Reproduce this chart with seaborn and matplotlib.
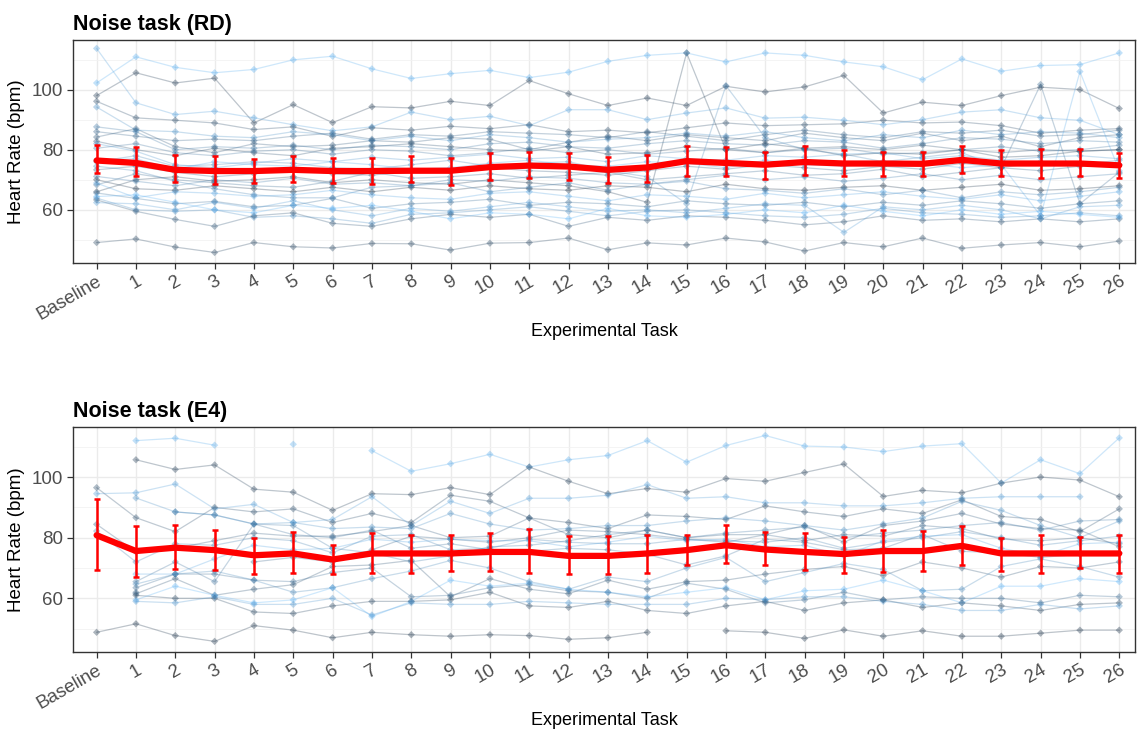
import numpy as np
import pandas as pd
import matplotlib
matplotlib.use("Agg")
import matplotlib.pyplot as plt
from matplotlib.colors import LinearSegmentedColormap
import seaborn as sns

nan = np.nan
tasks = ["Baseline"] + [str(i) for i in range(1, 27)]

# ---------------- RD panel: individual subjects ----------------
rd_01 = [102.2, 110.9, 107.4, 105.6, 106.7, 109.9, 111.1, 106.9, 103.7, 105.3, 106.4, 104.0, 105.8, 109.4, 111.4, 112.2, 109.2, 112.2, 111.4, 109.2, 107.6, 103.3, 110.2, 106.1, 108.0, 108.3, 112.2]
rd_02 = [98.0, 105.6, 102.2, 103.8, 88.9, 95.0, 89.0, 94.3, 93.9, 96.1, 94.7, 103.0, 98.6, 94.7, 97.2, 94.7, 101.1, 99.2, 100.9, 104.7, 92.2, 95.8, 94.7, 98.0, 100.8, 100.0, 93.7]
rd_03 = [113.7, 95.6, 91.7, 92.8, 90.6, 88.3, 86.3, 87.6, 92.5, 90.0, 91.1, 88.0, 93.3, 93.3, 90.0, 92.2, 93.9, 90.5, 90.8, 89.8, 88.3, 90.0, 92.5, 93.3, 90.6, 89.8, 85.0]
rd_04 = [96.1, 90.6, 89.8, 88.9, 86.7, 87.6, 84.4, 87.3, 86.5, 87.8, 87.0, 88.3, 86.0, 86.5, 85.6, 87.3, 88.9, 88.0, 88.3, 88.6, 89.8, 88.9, 89.2, 88.0, 85.5, 86.5, 87.0]
rd_05 = [94.2, 86.5, 86.0, 84.5, 84.0, 86.0, 85.0, 83.0, 84.5, 83.0, 85.0, 84.0, 82.5, 83.5, 84.0, 85.5, 84.5, 86.0, 84.0, 83.0, 85.0, 84.0, 86.5, 85.0, 86.0, 85.5, 84.0]
rd_06 = [87.6, 86.0, 80.0, 81.0, 80.5, 81.5, 80.0, 81.5, 81.0, 80.0, 82.0, 82.5, 81.0, 80.5, 82.0, 83.0, 82.0, 81.5, 83.0, 82.5, 80.5, 82.0, 84.0, 83.5, 82.0, 83.0, 82.5]
rd_07 = [84.2, 87.0, 81.0, 79.0, 82.0, 81.0, 81.5, 83.0, 82.5, 84.0, 83.5, 80.0, 82.5, 84.5, 83.0, 85.0, 84.0, 83.0, 85.5, 84.0, 83.0, 85.5, 83.0, 84.5, 81.0, 84.0, 85.0]
rd_08 = [66.0, 70.0, 71.0, 69.5, 70.0, 71.0, 69.0, 70.0, 69.0, 68.5, 70.0, 69.0, 68.0, 66.0, 62.5, 112.2, 80.0, 82.0, 80.5, 78.0, 79.0, 78.5, 80.0, 77.5, 78.0, 79.5, 80.0]
rd_09 = [76.0, 78.0, 74.5, 75.0, 76.0, 75.5, 74.0, 73.5, 75.0, 76.5, 74.5, 75.5, 76.0, 73.0, 71.0, 62.0, 101.3, 84.0, 80.0, 78.5, 76.0, 77.5, 79.0, 74.0, 76.0, 75.0, 76.5]
rd_10 = [68.3, 72.0, 70.0, 69.0, 68.0, 67.5, 69.5, 72.5, 70.5, 71.0, 72.0, 70.5, 71.5, 72.5, 70.0, 71.0, 72.0, 73.0, 71.5, 72.0, 73.5, 71.0, 72.5, 74.0, 101.7, 62.0, 72.5]
rd_11 = [76.5, 77.0, 73.5, 76.0, 75.0, 74.5, 76.0, 75.0, 73.5, 74.0, 75.5, 76.5, 75.0, 74.5, 76.0, 75.5, 74.0, 76.5, 75.0, 74.5, 76.0, 75.5, 74.0, 75.0, 58.0, 106.0, 73.0]
rd_12 = [82.8, 80.0, 78.0, 80.5, 79.0, 78.0, 80.5, 81.0, 82.0, 81.0, 80.0, 79.5, 81.0, 78.5, 79.0, 81.0, 80.0, 79.0, 80.5, 81.0, 80.0, 81.5, 80.0, 79.0, 80.0, 79.5, 80.0]
rd_13 = [82.0, 79.5, 75.0, 74.0, 75.5, 77.0, 76.0, 77.5, 76.5, 77.5, 78.5, 77.0, 77.5, 76.0, 78.0, 77.0, 76.5, 78.0, 77.5, 78.5, 79.0, 77.0, 78.0, 76.5, 77.5, 78.0, 77.0]
rd_14 = [73.3, 74.5, 72.5, 71.0, 72.0, 73.5, 72.0, 71.5, 73.0, 72.5, 74.0, 73.0, 72.5, 71.5, 73.0, 74.5, 73.5, 75.0, 74.0, 73.0, 74.5, 73.5, 75.5, 74.0, 73.0, 74.5, 75.0]
rd_15 = [71.1, 69.5, 68.0, 70.0, 69.0, 70.5, 68.5, 69.0, 68.0, 70.0, 69.5, 71.0, 70.5, 69.0, 68.5, 70.0, 71.5, 70.0, 71.0, 69.5, 70.5, 72.0, 70.0, 71.5, 70.0, 71.0, 72.0]
rd_16 = [70.0, 67.0, 66.5, 68.0, 67.0, 66.0, 67.5, 66.0, 67.5, 66.5, 68.0, 67.0, 66.5, 68.0, 67.5, 66.0, 68.5, 67.0, 66.5, 67.5, 68.0, 66.5, 67.5, 68.5, 66.5, 67.0, 68.0]
rd_17 = [68.9, 64.0, 66.0, 65.5, 64.5, 65.0, 66.5, 65.0, 64.0, 63.5, 65.5, 66.0, 64.5, 63.0, 65.0, 64.5, 63.5, 65.5, 64.0, 65.0, 66.0, 64.5, 63.5, 65.0, 63.0, 64.5, 66.0]
rd_18 = [65.6, 63.8, 62.0, 62.8, 61.0, 61.5, 63.8, 60.5, 62.0, 62.5, 63.5, 61.5, 62.5, 62.0, 61.0, 63.0, 62.0, 61.5, 62.5, 61.0, 62.5, 61.5, 63.0, 62.0, 60.5, 62.0, 63.0]
rd_19 = [63.9, 60.0, 59.5, 60.0, 57.5, 58.0, 57.0, 55.5, 58.5, 59.0, 60.0, 61.0, 59.5, 58.0, 59.5, 60.0, 59.0, 58.0, 57.5, 58.5, 60.5, 59.0, 58.5, 57.5, 58.0, 59.0, 58.0]
rd_20 = [63.3, 59.5, 56.8, 54.5, 58.0, 59.0, 55.5, 54.5, 57.0, 58.5, 57.5, 58.5, 54.5, 57.5, 56.5, 58.0, 57.5, 56.5, 55.0, 56.0, 58.0, 56.5, 57.0, 56.0, 57.0, 56.0, 57.0]
rd_21 = [62.4, 62.0, 60.0, 62.5, 60.5, 63.0, 60.0, 58.0, 60.5, 59.5, 61.0, 62.5, 61.0, 59.5, 60.0, 59.0, 60.5, 62.0, 61.5, 52.5, 61.0, 60.0, 61.5, 60.0, 57.0, 61.0, 61.5]
rd_22 = [49.1, 50.3, 47.6, 45.8, 49.1, 47.7, 47.3, 48.8, 48.7, 46.6, 48.9, 49.1, 50.6, 46.7, 49.0, 48.3, 50.6, 49.3, 46.3, 49.1, 47.7, 50.6, 47.2, 48.3, 49.1, 47.7, 49.6]
rd_23 = [86.0, 84.5, 83.0, 83.5, 83.0, 84.5, 85.5, 83.5, 85.0, 84.5, 86.0, 85.5, 85.0, 84.0, 86.0, 84.5, 83.0, 85.0, 86.5, 85.0, 84.0, 86.0, 85.5, 86.5, 84.5, 85.0, 86.5]
rd_24 = [74.5, 73.0, 69.5, 67.0, 65.0, 64.0, 64.0, 67.5, 68.0, 69.0, 66.0, 67.5, 69.0, 66.5, 68.5, 69.5, 67.0, 66.5, 65.5, 67.0, 65.0, 66.5, 64.0, 66.0, 65.0, 66.0, 67.5]
rd_25 = [80.5, 82.0, 79.0, 78.0, 79.5, 80.0, 78.5, 80.0, 79.5, 78.0, 79.0, 80.5, 79.0, 80.0, 78.5, 79.5, 80.5, 79.0, 80.0, 80.5, 78.5, 79.0, 80.0, 81.0, 79.5, 80.0, 81.5]
rd_26 = [64.4, 65.0, 62.5, 60.0, 59.0, 61.5, 60.5, 61.5, 59.5, 57.0, 59.0, 58.5, 57.0, 60.5, 58.0, 57.5, 58.5, 60.0, 59.0, 61.5, 59.5, 58.0, 60.0, 58.5, 59.5, 58.5, 57.5]
# subject IDs (mapped to the continuous blue colour scale)
rd_ids = [25, 2, 22, 5, 19, 14, 8, 3, 17, 11, 24, 6, 20, 9, 15, 1, 23, 12, 18, 7, 21, 4, 10, 16, 13, 26]

# RD panel: mean and error bar limits (red)
rd_mean = [76.4, 75.6, 73.3, 72.9, 72.9, 73.3, 72.9, 72.9, 73.0, 73.0, 74.2, 74.7, 74.4, 73.3, 74.1, 76.2, 75.6, 75.0, 75.9, 75.4, 75.4, 75.3, 76.6, 75.4, 75.4, 75.4, 74.8]
rd_lo = [72.2, 71.1, 69.1, 68.7, 68.9, 69.4, 68.9, 68.7, 69.2, 68.3, 69.9, 70.6, 70.0, 68.9, 69.4, 71.4, 71.1, 70.2, 71.7, 71.1, 71.4, 71.1, 72.2, 71.4, 70.6, 71.1, 70.6]
rd_hi = [81.4, 80.8, 78.1, 77.8, 77.0, 77.8, 77.2, 77.2, 77.8, 77.2, 78.8, 79.4, 78.8, 77.6, 78.3, 81.1, 80.8, 79.4, 81.1, 80.0, 79.4, 79.4, 81.1, 79.8, 80.3, 80.3, 78.9]

# ---------------- E4 panel: individual subjects ----------------
e4_01 = [nan, 112.0, 112.8, 110.5, nan, 110.8, nan, 108.7, 101.9, 104.4, 107.5, 103.3, 105.7, 107.1, 112.0, 104.9, 110.4, 113.7, 110.2, 109.9, 108.4, 110.2, 111.0, 98.0, 105.7, 101.1, 112.9]
e4_02 = [nan, 105.7, 102.5, 104.0, 96.0, 95.0, 89.0, 94.5, 94.2, 96.5, 94.2, 103.3, 98.6, 94.5, 96.2, 95.0, 99.5, 98.6, 101.5, 104.3, 93.6, 95.6, 94.8, 98.0, 100.0, 99.0, 93.5]
e4_03 = [94.5, 94.8, 97.7, 89.5, 91.0, 85.0, 86.0, 93.5, 84.0, 92.0, 88.0, 93.0, 93.0, 94.0, 97.5, 93.0, 93.5, 91.5, 91.5, 90.5, 90.5, 91.5, 93.0, 93.5, 93.5, 93.5, nan]
e4_04 = [96.5, 86.6, 82.0, 90.0, 88.5, 89.5, 85.0, 88.0, 85.0, 94.0, 92.0, 86.5, 85.0, 83.0, 87.5, 87.0, 86.0, 90.5, 88.5, 87.0, 89.5, 88.0, 92.5, 87.0, 86.0, 82.0, 89.5]
e4_05 = [nan, 93.1, 88.5, 87.5, 84.5, 85.0, 83.0, 83.5, 83.0, 88.0, 84.5, 82.5, 83.0, 84.0, 84.0, 85.5, 86.5, 85.5, 84.0, 82.5, 84.5, 86.5, 92.0, 89.0, 84.0, 80.0, 85.5]
e4_06 = [84.4, 75.3, 76.5, 79.0, 81.5, 80.5, 80.5, 82.0, 84.0, 80.0, 80.5, 86.5, 81.0, 80.0, 82.5, 80.0, 81.0, 81.0, 84.0, 78.5, 84.0, 85.5, 88.0, 84.5, 83.0, 82.5, 77.0]
e4_07 = [82.2, 72.0, 78.0, 77.5, 80.0, 79.0, 75.0, 80.5, 81.0, 76.0, 76.5, 79.5, 78.5, 78.0, 78.0, 79.5, 79.0, 78.5, 80.0, 76.5, 78.5, 80.0, 82.0, 80.0, 77.5, 79.0, 80.5]
e4_08 = [nan, 68.0, 68.0, 73.0, 77.5, 76.0, 76.5, 79.5, 78.5, 79.5, 79.0, 79.0, 77.0, 78.5, 80.5, 79.0, 79.5, 77.0, 77.5, 74.0, 79.0, 80.5, 81.0, 76.5, 74.0, 78.0, 78.5]
e4_09 = [nan, 65.5, 72.0, 65.5, 84.5, 81.0, 80.0, 82.5, 76.5, 78.0, 76.0, 75.5, 76.5, 76.0, 74.5, 71.0, 74.0, 79.5, 78.5, 76.0, 76.5, 81.0, 75.5, 75.0, 73.5, 74.5, 75.0]
e4_10 = [nan, 61.5, 66.5, 61.0, 63.0, 64.5, 70.5, 71.0, 72.5, 60.5, 66.5, 63.0, 61.5, 66.0, 63.0, 65.5, 66.0, 68.0, 69.5, 70.5, 67.5, 72.0, 70.0, 67.0, 70.5, 70.0, 72.0]
e4_11 = [nan, 59.5, 64.0, 61.0, 58.5, 59.5, 63.5, 54.0, 59.0, 66.0, 64.0, 65.0, 63.0, 62.0, 60.5, 62.0, 63.5, 59.5, 62.5, 63.0, 66.0, 62.5, 58.5, 64.0, 64.0, 66.5, 65.5]
e4_12 = [nan, 61.0, 60.0, 60.0, 55.5, 55.0, 57.5, 59.0, 59.0, 59.5, 62.0, 57.5, 57.0, 59.0, 56.0, 55.0, 57.5, 59.0, 56.0, 58.5, 59.5, 57.0, 58.5, 57.5, 56.0, 58.0, 58.5]
e4_13 = [nan, 59.0, 58.5, 60.5, 58.0, 58.0, 60.0, 54.5, 58.5, 58.0, 58.0, 59.0, 58.5, 58.0, 58.0, 58.0, 60.0, 59.5, 60.5, 60.5, 59.0, 58.0, 56.0, 56.0, 58.0, 56.5, 57.5]
e4_14 = [48.8, 51.6, 47.7, 45.8, 51.0, 49.5, 47.0, 48.8, 48.0, 47.5, 48.0, 47.7, 46.5, 47.0, 48.8, nan, 49.3, 48.8, 46.8, 49.6, 47.5, 49.3, 47.5, 47.5, 48.5, 49.5, 49.5]
e4_15 = [nan, 64.7, 68.0, 69.0, 66.0, 62.0, 63.5, 66.5, 69.0, 72.5, 70.0, 65.5, 63.0, 67.0, 65.5, 70.0, 73.5, 65.5, 68.5, 71.5, 69.5, 62.5, 63.0, 70.5, 73.0, 70.5, 67.0]
e4_16 = [nan, nan, 88.5, 87.5, 84.5, 84.0, 76.5, 75.0, 72.0, 74.0, 77.0, 77.5, 79.0, 81.0, 82.5, 80.0, 81.5, 82.5, 83.5, 80.0, 81.5, 82.5, 84.0, 85.0, 82.5, 85.5, 86.0]
e4_17 = [nan, 63.5, 68.0, 68.0, 66.0, 65.5, 68.5, 70.0, 60.5, 61.0, 63.5, 64.5, 62.5, 62.0, 60.0, 65.0, 63.0, 58.5, 59.5, 62.0, 59.5, 60.5, 60.0, 60.0, 58.5, 61.0, 60.5]
e4_18 = [nan, 62.0, nan, nan, 72.0, 73.5, 72.0, 76.0, 80.5, 79.5, 78.5, 80.0, 82.5, 82.0, 81.0, 79.5, 78.5, 81.0, 79.0, 81.0, 80.5, 84.0, 83.0, 79.5, 79.0, 80.0, 78.0]
e4_ids = [17, 2, 15, 4, 13, 6, 11, 16, 9, 5, 18, 3, 14, 1, 12, 10, 8, 7]

e4_mean = [80.8, 75.6, 76.7, 75.9, 74.2, 74.8, 72.8, 74.8, 74.8, 74.8, 75.3, 75.3, 74.0, 74.0, 74.8, 75.9, 77.5, 76.1, 75.3, 74.6, 75.6, 75.6, 77.3, 74.8, 74.8, 74.8, 74.8]
e4_lo = [69.3, 67.1, 69.6, 69.3, 67.9, 68.2, 67.9, 68.5, 68.5, 69.1, 69.0, 68.2, 67.9, 67.9, 68.5, 71.0, 71.5, 71.0, 69.3, 68.5, 68.8, 69.0, 71.0, 69.0, 68.2, 69.9, 68.5]
e4_hi = [92.7, 83.9, 84.3, 82.5, 79.9, 81.9, 77.5, 81.4, 81.0, 80.8, 81.7, 82.8, 80.6, 80.6, 81.0, 81.0, 84.3, 81.9, 81.7, 80.3, 82.5, 82.1, 83.9, 79.9, 81.0, 80.3, 81.0]

rd_subjects = [rd_01, rd_02, rd_03, rd_04, rd_05, rd_06, rd_07, rd_08, rd_09, rd_10, rd_11, rd_12, rd_13,
               rd_14, rd_15, rd_16, rd_17, rd_18, rd_19, rd_20, rd_21, rd_22, rd_23, rd_24, rd_25, rd_26]
e4_subjects = [e4_01, e4_02, e4_03, e4_04, e4_05, e4_06, e4_07, e4_08, e4_09, e4_10, e4_11, e4_12, e4_13,
               e4_14, e4_15, e4_16, e4_17, e4_18]


def long_frame(subjects, ids):
    rows = []
    for sid, vals in zip(ids, subjects):
        seg = 0
        for t, v in enumerate(vals):
            if np.isnan(v):
                seg += 1
                continue
            rows.append({"pos": t, "hr": v, "subject": sid, "seg": f"{sid}_{seg}"})
    return pd.DataFrame(rows)


sns.set_theme(style="whitegrid")
plt.rcParams["font.family"] = ["Liberation Sans", "DejaVu Sans"]

cmap = LinearSegmentedColormap.from_list("gg", ["#132B43", "#56B1F7"])

fig = plt.figure(figsize=(11.37, 7.31), dpi=100)
ax1 = fig.add_axes([73 / 1137, 1 - 263 / 731, (1135 - 73) / 1137, (263 - 40) / 731])
ax2 = fig.add_axes([73 / 1137, 1 - 652 / 731, (1135 - 73) / 1137, (652 - 427) / 731])

panels = [
    (ax1, rd_subjects, rd_ids, rd_mean, rd_lo, rd_hi, "Noise task (RD)"),
    (ax2, e4_subjects, e4_ids, e4_mean, e4_lo, e4_hi, "Noise task (E4)"),
]

for ax, subjects, ids, mean, lo, hi, title in panels:
    df = long_frame(subjects, ids)
    n = max(ids)
    pal = {s: cmap((s - 1) / (n - 1)) for s in ids}
    sns.lineplot(data=df, x="pos", y="hr", hue="subject", units="seg", estimator=None,
                 palette=pal, alpha=0.28, linewidth=0.9, legend=False, ax=ax, zorder=2)
    sns.scatterplot(data=df, x="pos", y="hr", hue="subject", palette=pal, alpha=0.35,
                    s=14, marker="D", edgecolor="none", legend=False, ax=ax, zorder=3)
    m = np.array(mean)
    sns.lineplot(x=np.arange(len(mean)), y=m, color="#FF0000", linewidth=4.5, ax=ax, zorder=5)
    ax.errorbar(np.arange(len(mean)), m, yerr=[m - np.array(lo), np.array(hi) - m], fmt="none",
                ecolor="#FF0000", elinewidth=1.8, capsize=2.5, capthick=1.8, zorder=6)

    ax.set_xlim(-0.6, 26.4)
    ax.set_ylim(42.3, 116.5)
    ax.set_xticks(range(len(tasks)))
    ax.set_xticklabels(tasks, rotation=30, ha="right", rotation_mode="anchor",
                       fontsize=13.5, color="#4D4D4D")
    ax.set_yticks([60, 80, 100])
    ax.set_yticks([50, 70, 90, 110], minor=True)
    ax.tick_params(axis="y", labelsize=13.5, labelcolor="#4D4D4D")
    ax.tick_params(axis="both", which="major", length=4, width=0.9, color="#333333", direction="out",
                   bottom=True, left=True, pad=3)
    ax.tick_params(axis="both", which="minor", length=0)
    ax.grid(True, which="major", color="#EBEBEB", linewidth=1.0)
    ax.grid(True, which="minor", axis="y", color="#F2F2F2", linewidth=0.6)
    ax.set_axisbelow(True)
    ax.set_facecolor("white")
    for sp in ax.spines.values():
        sp.set_color("#333333")
        sp.set_linewidth(1.0)
    ax.set_xlabel("Experimental Task", fontsize=13, color="black", labelpad=0)
    ax.set_ylabel("Heart Rate (bpm)", fontsize=13.5, color="black", labelpad=5)
    ax.set_title(title, loc="left", fontweight="bold", fontsize=15.5, pad=7, color="black")

fig.savefig("out.png", dpi=100, facecolor="white")
